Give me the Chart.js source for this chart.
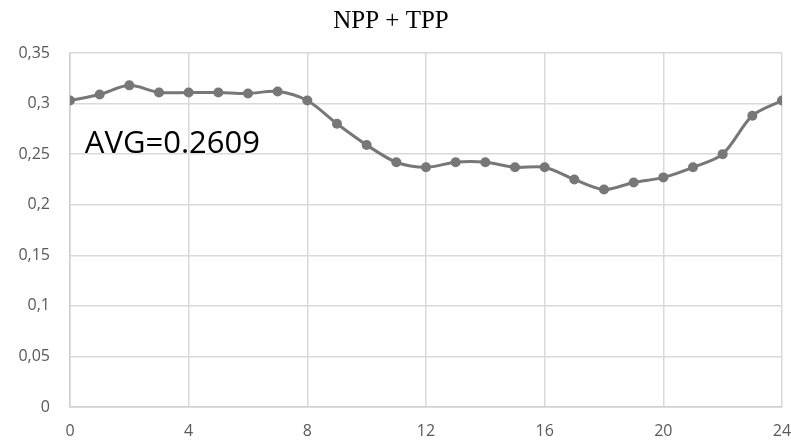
<!DOCTYPE html>
<html>
<head>
<meta charset="utf-8">
<script src="https://cdn.jsdelivr.net/npm/chart.js@4/dist/chart.umd.min.js"></script>
<style>
html,body{margin:0;padding:0;background:#fff;}
canvas{display:block;}
</style>
</head>
<body>
<canvas id="c" width="791" height="442"></canvas>
<script>
const chartTitle = "NPP + TPP";
const hours = [0,1,2,3,4,5,6,7,8,9,10,11,12,13,14,15,16,17,18,19,20,21,22,23,24];
const values = [0.303,0.309,0.318,0.311,0.311,0.311,0.310,0.312,0.303,0.280,0.259,0.242,0.237,0.242,0.242,0.237,0.237,0.225,0.215,0.222,0.227,0.237,0.250,0.288,0.303];
const avgLabel = "AVG=0.2609";
const avgAnchor = [0.5, 0.251];

const points = hours.map((h, i) => ({x: h, y: values[i]}));

const avgPlugin = {
  id: 'avgText',
  afterDatasetsDraw(chart) {
    const ctx = chart.ctx;
    const px = chart.scales.x.getPixelForValue(avgAnchor[0]);
    const py = chart.scales.y.getPixelForValue(avgAnchor[1]);
    ctx.save();
    ctx.font = '31px "Open Sans"';
    ctx.fillStyle = '#000000';
    ctx.textAlign = 'left';
    ctx.textBaseline = 'alphabetic';
    ctx.fillText(avgLabel, px, py);
    ctx.restore();
  }
};

new Chart(document.getElementById('c'), {
  type: 'line',
  data: {
    datasets: [{
      data: points,
      borderColor: '#777777',
      backgroundColor: '#777777',
      borderWidth: 3,
      pointRadius: 5,
      pointBorderWidth: 0,
      pointBackgroundColor: '#777777',
      tension: 0.3,
      fill: false
    }]
  },
  options: {
    responsive: false,
    animation: false,
    layout: { padding: { left: 0, right: 9, top: 0, bottom: 0 } },
    plugins: {
      legend: { display: false },
      tooltip: { enabled: false },
      title: {
        display: true,
        text: chartTitle,
        color: '#000000',
        font: { family: '"Liberation Serif", "Times New Roman", serif', size: 25, weight: 'normal' },
        padding: { top: 6, bottom: 17 }
      }
    },
    scales: {
      x: {
        type: 'linear',
        min: 0,
        max: 24,
        ticks: {
          stepSize: 4,
          color: '#595959',
          font: { family: '"Open Sans"', size: 16 },
          padding: 15,
          maxRotation: 0
        },
        grid: { color: '#d9d9d9', lineWidth: 1.5, drawTicks: false },
        border: { color: '#cfcfcf', width: 1.5 },
        afterFit(s) { s.height = 35; s.paddingLeft = 0; s.paddingRight = 0; }
      },
      y: {
        min: 0,
        max: 0.35,
        ticks: {
          stepSize: 0.05,
          color: '#595959',
          font: { family: '"Open Sans"', size: 16 },
          padding: 20,
          callback: v => String(+v.toFixed(2)).replace('.', ',')
        },
        grid: { color: '#d9d9d9', lineWidth: 1.5, drawTicks: false },
        border: { color: '#cfcfcf', width: 1.5 },
        afterFit(s) { s.width = 70; s.paddingTop = 0; s.paddingBottom = 0; }
      }
    }
  },
  plugins: [avgPlugin]
});
</script>
</body>
</html>
